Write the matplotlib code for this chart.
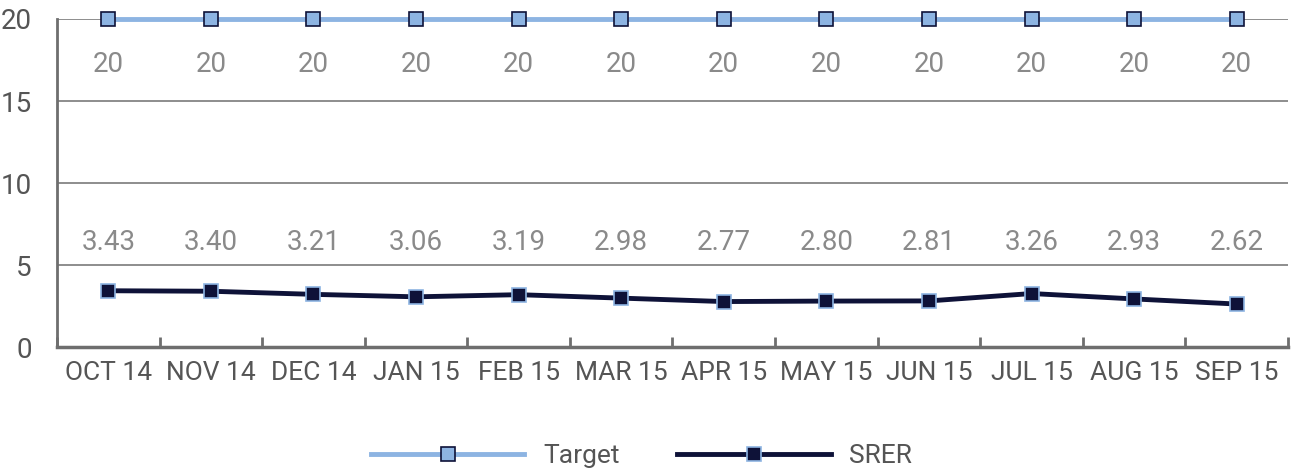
import matplotlib.pyplot as plt

months = ['OCT 14', 'NOV 14', 'DEC 14', 'JAN 15', 'FEB 15', 'MAR 15',
          'APR 15', 'MAY 15', 'JUN 15', 'JUL 15', 'AUG 15', 'SEP 15']
target = [20, 20, 20, 20, 20, 20, 20, 20, 20, 20, 20, 20]
srer = [3.43, 3.40, 3.21, 3.06, 3.19, 2.98, 2.77, 2.80, 2.81, 3.26, 2.93, 2.62]

plt.rcParams['font.family'] = ['Roboto', 'DejaVu Sans']

light = '#8db4e2'
navy = '#0e1238'
fs = 19

fig = plt.figure(figsize=(12.91, 4.72), dpi=100)
ax = fig.add_axes([57 / 1291, 1 - 347 / 472, 1231 / 1291, 328 / 472])
x = list(range(len(months)))

ax.plot(x, target, color=light, lw=3.5, marker='s', ms=10, mfc=light, mec=navy, mew=1.2,
        label='Target', zorder=3, clip_on=False)
ax.plot(x, srer, color=navy, lw=3.5, marker='s', ms=10, mfc=navy, mec=light, mew=1.2,
        label='SRER', zorder=3, clip_on=False)

# data labels sit on a fixed row in the original
for i in x:
    ax.text(i, 17.25, f'{target[i]}', ha='center', va='center', fontsize=fs + 1, color='#8a8a8a')
    ax.text(i, 6.35, f'{srer[i]:.2f}', ha='center', va='center', fontsize=fs + 1, color='#8a8a8a')

ax.set_xlim(-0.5, 11.5)
ax.set_ylim(0, 20)
ax.set_yticks([0, 5, 10, 15, 20])
ax.set_xticks(x)
ax.set_xticklabels(months)
ax.set_xticks([i + 0.5 for i in range(-1, 12)], minor=True)
ax.tick_params(axis='x', which='major', length=0, pad=10, labelsize=fs, labelcolor='#555555')
ax.tick_params(axis='x', which='minor', direction='in', length=7, width=2, color='#6e6e6e')
ax.tick_params(axis='y', length=0, pad=18, labelsize=fs + 1, labelcolor='#555555')
ax.grid(axis='y', color='#7a7a7a', lw=1.2)
ax.set_axisbelow(True)
for s in ['top', 'right']:
    ax.spines[s].set_visible(False)
ax.spines['left'].set_color('#6e6e6e')
ax.spines['left'].set_linewidth(2)
ax.spines['bottom'].set_color('#6e6e6e')
ax.spines['bottom'].set_linewidth(2.5)

leg = fig.legend(loc='center', bbox_to_anchor=(0.497, 1 - 456 / 472), ncol=2, frameon=False,
                 fontsize=fs, handlelength=5.8, columnspacing=2.2, handletextpad=0.7,
                 labelcolor='#555555')

fig.savefig('out.png', dpi=100)
